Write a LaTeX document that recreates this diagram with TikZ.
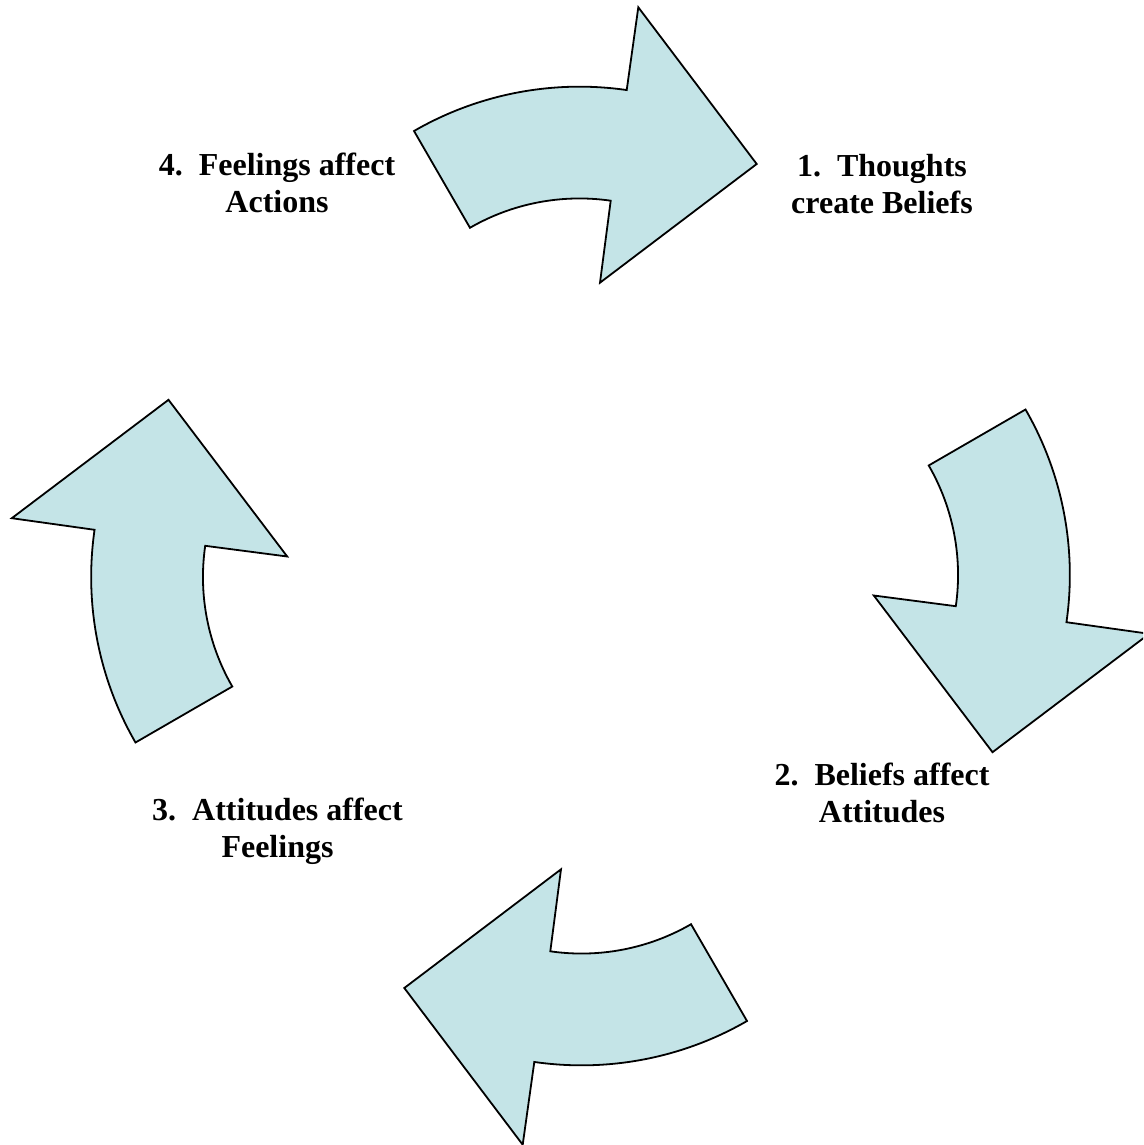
\documentclass[tikz,border=0pt]{standalone}
\usepackage{fontspec}
\setmainfont{Liberation Serif}
\definecolor{arrowfill}{RGB}{196,228,231}
\begin{document}
\begin{tikzpicture}[x=1pt,y=-1pt,
  cyclearrow/.style={fill=arrowfill,draw=black,line width=1.8pt,line join=miter},
  cyclabel/.style={font=\bfseries\fontsize{32}{37}\selectfont,inner sep=0pt,anchor=base}]
  \useasboundingbox (0,0) rectangle (1143,1145);
  \fill[white] (0,0) rectangle (1143,1145);
  \clip (0,0) rectangle (1143,1145);
  \foreach \a in {0,-90,180,90}{
    \path[cyclearrow, rotate around={\a:(580.5,576)}]
      (414,131) arc[start angle=-120, end angle=-81.8, radius=331]
      -- (638.3,7.3) -- (756.7,164) -- (600,282.7) -- (610.7,200.7)
      arc[start angle=-81.8, end angle=-120, radius=219] -- cycle;
  }
  \node[cyclabel] (l1) at (882,176.5) {\begin{tabular}[t]{@{}c@{}}1.\ \ Thoughts\\create Beliefs\end{tabular}};
  \node[cyclabel] (l2) at (882,785) {\begin{tabular}[t]{@{}c@{}}2.\ \ Beliefs affect\\Attitudes\end{tabular}};
  \node[cyclabel] (l3) at (277.5,820) {\begin{tabular}[t]{@{}c@{}}3.\ \ Attitudes affect\\Feelings\end{tabular}};
  \node[cyclabel] (l4) at (277,175) {\begin{tabular}[t]{@{}c@{}}4.\ \ Feelings affect\\Actions\end{tabular}};
\end{tikzpicture}
\end{document}
